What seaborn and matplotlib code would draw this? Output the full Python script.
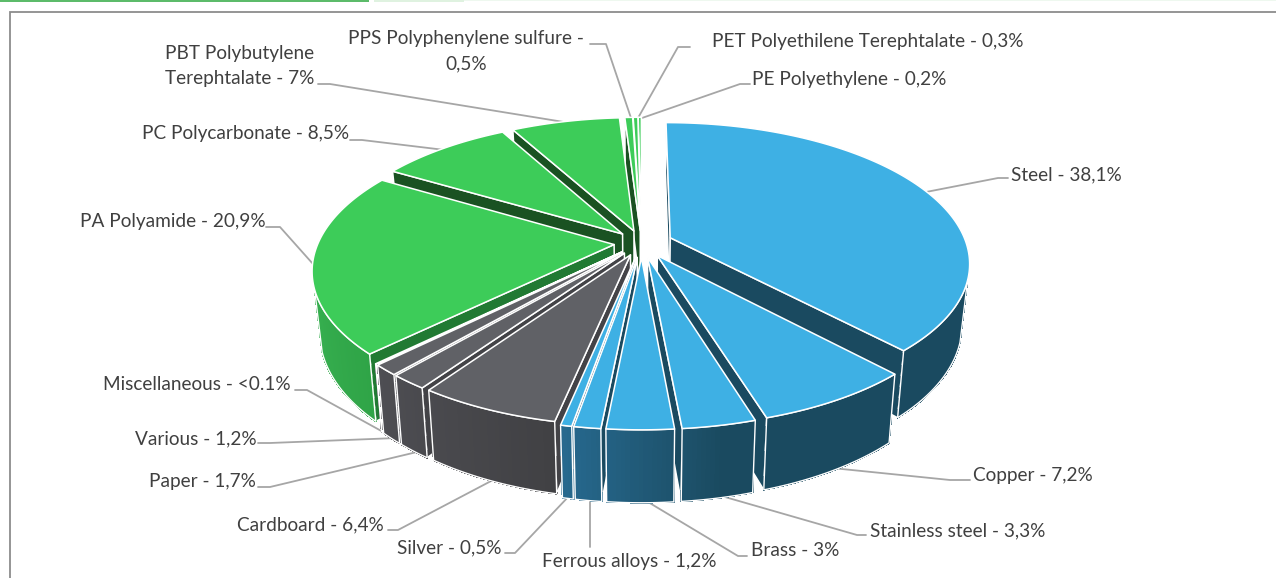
import numpy as np
import matplotlib
matplotlib.use("Agg")
import matplotlib.pyplot as plt
from matplotlib.patches import Polygon, Rectangle
import seaborn as sns

# ---- data ----
materials = ["Steel", "Copper", "Stainless steel", "Brass", "Ferrous alloys", "Silver",
             "Cardboard", "Paper", "Various", "Miscellaneous",
             "PA Polyamide", "PC Polycarbonate", "PBT Polybutylene\nTerephtalate",
             "PPS Polyphenylene sulfure", "PET Polyethilene Terephtalate", "PE Polyethylene"]
shares = [38.1, 7.2, 3.3, 3.0, 1.2, 0.5, 6.4, 1.7, 1.2, 0.1, 20.9, 8.5, 7.0, 0.5, 0.3, 0.2]
share_text = ["38,1%", "7,2%", "3,3%", "3%", "1,2%", "0,5%", "6,4%", "1,7%", "1,2%", "<0.1%",
              "20,9%", "8,5%", "7%", "0,5%", "0,3%", "0,2%"]
families = ["metal"] * 6 + ["paper"] * 4 + ["plastic"] * 6

# ---- styles / layout ----
sns.set_theme(style="white")
plt.rcParams["font.family"] = ["Lato", "DejaVu Sans"]
top_col = {"metal": "#3eb0e4", "paper": "#606166", "plastic": "#3dcc59"}
band_col = {"metal": "#1a4a60", "paper": "#434347", "plastic": "#1a5222"}
wall_pal = {"metal": sns.blend_palette(["#1a4a60", "#2a7099"], 64),
            "paper": sns.blend_palette(["#414144", "#4e4e53"], 64),
            "plastic": sns.blend_palette(["#2fa447", "#37b050"], 64)}
wall_rng = {"metal": (-78, -106), "paper": (-102, -135), "plastic": (-135, -165)}
expl = {"metal": 0.105, "paper": 0.093, "plastic": 0.093}

cx, cy, R, B, K = 641.5, 243.0, 296.0, 0.462, 0.173
WALL_LIMIT = -0.3   # outer wall only shows below this sine of the angle

def proj(x, y):
    s = 1 / (1 + K * y)
    return cx + R * x * s, cy - R * B * y * s

def drop(X, Y, x, y):
    s = 1 / (1 + K * y)
    return cx + (X - cx) * 0.977, Y + 59 * s

fig = plt.figure(figsize=(12.76, 5.78), dpi=100)
ax = fig.add_axes([0, 0, 1, 1])
ax.set_xlim(0, 1276)
ax.set_ylim(578, 0)
ax.axis("off")

# page furniture
ax.add_patch(Rectangle((0, 0), 369, 2, fc="#5cbb6a", ec="none"))
ax.add_patch(Rectangle((374, 0), 90, 2, fc="#dff2e0", ec="none"))
ax.add_patch(Rectangle((464, 0), 812, 1, fc="#eef8ef", ec="none"))
ax.plot([9.5, 9.5, 1276], [578, 12, 12], color="#8c8c8c", lw=1.3, solid_joinstyle="miter")

# slices
total = sum(shares)
edges = 90 - np.concatenate([[0], np.cumsum(shares)]) * 360 / total
slices = [(i, edges[i], edges[i + 1]) for i in range(len(shares))]
slices.sort(key=lambda t: -np.sin(np.radians((t[1] + t[2]) / 2)))

z = 10
def add(poly, fc, ec="white", lw=1.1):
    global z
    z += 1
    ax.add_patch(Polygon(poly, closed=True, fc=fc, ec=ec, lw=lw, zorder=z, joinstyle="round"))

for i, a0, a1 in slices:
    fam = families[i]
    mid = np.radians((a0 + a1) / 2)
    e = expl[fam]
    ox, oy = e * np.cos(mid), e * np.sin(mid)
    th = np.radians(np.linspace(a0, a1, max(int(abs(a1 - a0) * 1.5), 3)))
    xs, ys = ox + np.cos(th), oy + np.sin(th)
    top = np.array([proj(x, y) for x, y in zip(xs, ys)])
    bot = np.array([drop(P[0], P[1], x, y) for P, x, y in zip(top, xs, ys)])
    apex = np.array(proj(ox, oy))
    apex_b = np.array(drop(apex[0], apex[1], ox, oy))
    band = "#217a33" if materials[i].startswith("PA") else band_col[fam]
    # radial cut faces, only those turned towards the viewer
    if np.sin(np.radians(a0 + 90)) <= 0.02:
        add([apex, top[0], bot[0], apex_b], band)
    if np.sin(np.radians(a1 - 90)) <= 0.02:
        add([apex, top[-1], bot[-1], apex_b], band)
    # outer wall with a gradient along the angle
    vis = np.sin(th) < WALL_LIMIT
    lo, hi = wall_rng[fam]
    pal = wall_pal[fam]
    for j in range(len(th) - 1):
        if not (vis[j] and vis[j + 1]):
            continue
        t = np.clip((np.degrees(th[j]) - lo) / (hi - lo), 0, 1)
        col = pal[int(t * 63)]
        z += 1
        ax.add_patch(Polygon([top[j], top[j + 1], bot[j + 1], bot[j]], closed=True,
                             fc=col, ec=col, lw=0.5, zorder=z, antialiased=False))
    if vis.sum() >= 2:
        z += 1
        ax.add_patch(Polygon(np.vstack([top[vis], bot[vis][::-1]]), closed=True, fc="none",
                             ec="white", lw=1.0, zorder=z))
    # top face
    add(np.vstack([apex, top]), top_col[fam])

# labels and leader lines (pixel layout)
label_x = [1011, 973, 870, 751, 542, 397, 237, 149, 135, 103, 80, 142, 240, 466, 712, 752]
label_y = [175, 476, 531, 551, 562, 548, 525, 481, 439, 385, 222, 134, 66, 51, 42, 79]
label_ha = ["left"] * 12 + ["center", "center", "left", "left"]
leaders = [
    [(926, 192), (998, 178), (1008, 178)],
    [(832, 468), (950, 480), (970, 480)],
    [(718, 495), (857, 535), (866, 535)],
    [(643, 499), (738, 556), (747, 556)],
    [(590, 497), (590, 547)],
    [(570, 495), (515, 553), (505, 553)],
    [(493, 480), (398, 530), (388, 530)],
    [(417, 452), (270, 487), (258, 487)],
    [(397, 438), (270, 443), (258, 443)],
    [(385, 433), (307, 390), (295, 390)],
    [(313, 264), (280, 227), (266, 227)],
    [(445, 150), (362, 140), (350, 140)],
    [(570, 123), (330, 84), (318, 84)],
    [(631, 118), (606, 44), (590, 44)],
    [(638, 118), (678, 47), (690, 47)],
    [(642, 118), (740, 84), (750, 84)],
]
for name, txt, x, y, ha, pts in zip(materials, share_text, label_x, label_y, label_ha, leaders):
    if name.startswith("PPS"):
        s = f"{name} -\n{txt}"
    else:
        s = f"{name} - {txt}"
    ax.text(x, y, s, ha=ha, va="center", fontsize=13.65, color="#404040", linespacing=1.6,
            multialignment="center", zorder=500)
    p = np.array(pts)
    ax.plot(p[:, 0], p[:, 1], color="#a6a6a6", lw=1.3, zorder=5)

fig.savefig("out.png", dpi=100, facecolor="white")
